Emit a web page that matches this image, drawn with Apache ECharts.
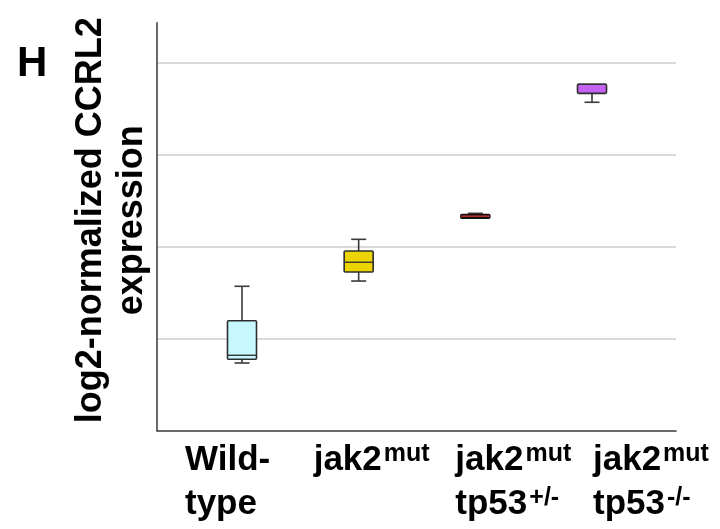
<!DOCTYPE html>
<html>
<head>
<meta charset="utf-8">
<script src="https://cdn.jsdelivr.net/npm/echarts@6/dist/echarts.min.js"></script>
<style>html,body{margin:0;padding:0;background:#fff}#c{width:720px;height:529px}</style>
</head>
<body>
<div id="c"></div>
<script>
// ---- data ----
const categories = ['Wild-type', 'jak2mut', 'jak2mut tp53+/-', 'jak2mut tp53-/-'];
// [min, q1, median, q3, max] (log2-normalized CCRL2 expression)
const wildType   = [0.735, 0.775, 0.819, 1.194, 1.568];
const jak2mut    = [1.625, 1.723, 1.829, 1.951, 2.078];
const jak2tp53het = [2.304, 2.308, 2.329, 2.347, 2.360];
const jak2tp53hom = [3.566, 3.663, 3.761, 3.761, 3.761];
const yTicks = [0, 1, 2, 3, 4];

const labelTexts = [
  'Wild-\ntype',
  'jak2{sup|mut}',
  'jak2{sup|mut}\ntp53{sup|+/-}',
  'jak2{sup|mut}\ntp53{sup|-/-}'
];
const labelShift = [-57, -45, -20, 1];
const fills = ['#c6f8fd', '#ecd400', '#3a1414', '#c462f2'];
const strokes = ['#2e2e2e', '#2e2e2e', '#111111', '#2e2e2e'];
const medianColors = ['#333333', '#333333', '#b83030', '#333333'];

const boxes = [wildType, jak2mut, jak2tp53het, jak2tp53hom];
const seriesData = boxes.map((b, i) => [i].concat(b));

const chart = echarts.init(document.getElementById('c'));
const FONT = '"Liberation Sans", Arial, sans-serif';

function renderItem(params, api) {
  const i = api.value(0);
  const pMin = api.coord([i, api.value(1)]);
  const pQ1 = api.coord([i, api.value(2)]);
  const pMed = api.coord([i, api.value(3)]);
  const pQ3 = api.coord([i, api.value(4)]);
  const pMax = api.coord([i, api.value(5)]);
  const cx = pQ1[0];
  const hw = 14.5, cw = 7.5;
  const lineStyle = { stroke: '#3a3a3a', lineWidth: 1.6 };
  const children = [];
  if (pMax[1] < pQ3[1] - 0.5) {
    children.push({ type: 'line', shape: { x1: cx, y1: pMax[1], x2: cx, y2: pQ3[1] }, style: lineStyle });
    children.push({ type: 'line', shape: { x1: cx - cw, y1: pMax[1], x2: cx + cw, y2: pMax[1] }, style: lineStyle });
  }
  if (pMin[1] > pQ1[1] + 0.5) {
    children.push({ type: 'line', shape: { x1: cx, y1: pQ1[1], x2: cx, y2: pMin[1] }, style: lineStyle });
    children.push({ type: 'line', shape: { x1: cx - cw, y1: pMin[1], x2: cx + cw, y2: pMin[1] }, style: lineStyle });
  }
  children.push({
    type: 'rect',
    shape: { x: cx - hw, y: pQ3[1], width: hw * 2, height: pQ1[1] - pQ3[1], r: 1 },
    style: { fill: fills[i], stroke: strokes[i], lineWidth: 1.6 }
  });
  children.push({
    type: 'line',
    shape: { x1: cx - hw, y1: pMed[1], x2: cx + hw, y2: pMed[1] },
    style: { stroke: medianColors[i], lineWidth: 1.4 }
  });
  return { type: 'group', children };
}

const supStyle = { fontSize: 25, fontWeight: 'bold', fontFamily: FONT, color: '#000', padding: [0, 0, 13, 2] };

chart.setOption({
  animation: false,
  backgroundColor: '#fff',
  title: {
    text: 'H', left: 12, top: 38,
    textStyle: { fontSize: 42, fontWeight: 'bold', fontFamily: FONT, color: '#000' }
  },
  grid: [
    { left: 157, right: 44, top: 22.7, bottom: 98.3 },
    { left: 183.67, right: 69.67, top: 22.7, bottom: 98.3 }
  ],
  xAxis: [
    {
      gridIndex: 0, type: 'value', min: 0, max: 1,
      axisLine: { show: true, lineStyle: { color: '#444', width: 1.6 } },
      axisTick: { show: false }, axisLabel: { show: false }, splitLine: { show: false }
    },
    {
      gridIndex: 1, type: 'category',
      data: categories.map((c, i) => ({
        value: c,
        textStyle: { align: 'left', verticalAlign: 'top', padding: [0, 0, 0, labelShift[i]] }
      })),
      axisLine: { show: false }, axisTick: { show: false },
      axisLabel: {
        interval: 0, align: 'left', margin: 8, hideOverlap: false,
        fontSize: 35, fontWeight: 'bold', fontFamily: FONT, color: '#000', lineHeight: 44,
        formatter: (v, idx) => labelTexts[idx],
        rich: { sup: supStyle }
      }
    }
  ],
  yAxis: [
    {
      gridIndex: 0, type: 'value', min: yTicks[0], max: 4.43, interval: 1,
      axisLine: { show: true, lineStyle: { color: '#444', width: 1.6 } },
      axisTick: { show: false }, axisLabel: { show: false },
      splitLine: { show: true, showMaxLine: false, lineStyle: { color: '#cccccc', width: 1.6 } },
      name: 'log2-normalized CCRL2\nexpression',
      nameLocation: 'middle', nameRotate: 90, nameGap: 4,
      nameTextStyle: { fontSize: 36, fontWeight: 'bold', fontFamily: FONT, color: '#000', lineHeight: 41, padding: [0, 0, 0, 13] }
    },
    {
      gridIndex: 1, type: 'value', min: yTicks[0], max: 4.43, show: false
    }
  ],
  series: [{
    type: 'custom',
    xAxisIndex: 1, yAxisIndex: 1,
    renderItem: renderItem,
    encode: { x: 0, y: [1, 2, 3, 4, 5] },
    data: seriesData
  }]
});
</script>
</body>
</html>
